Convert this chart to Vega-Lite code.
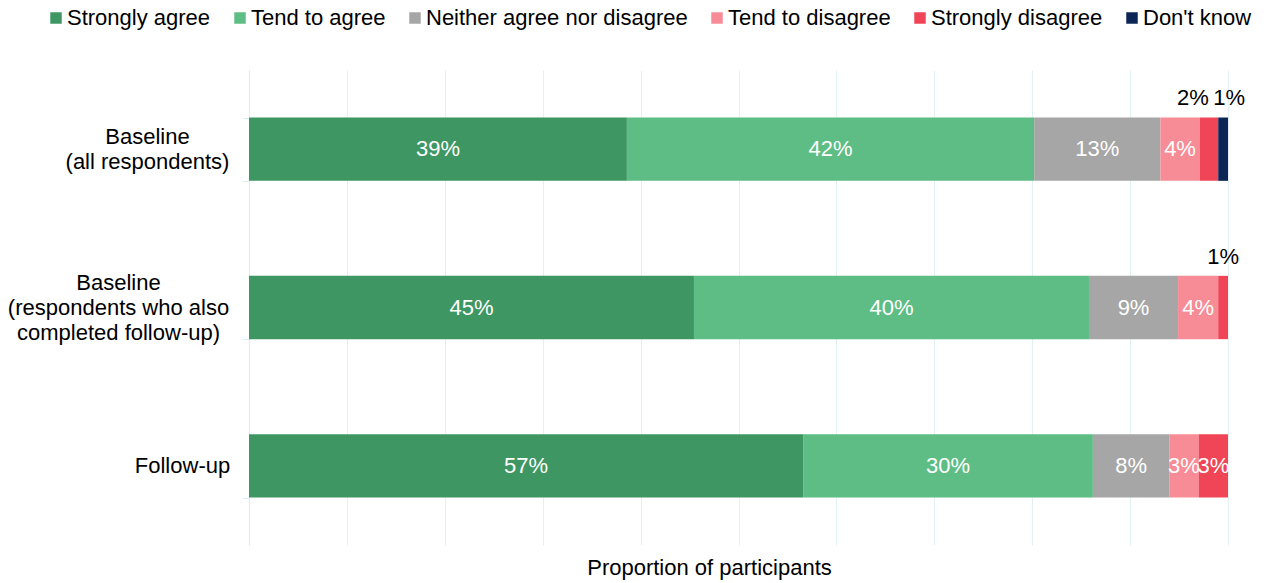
{
  "$schema": "https://vega.github.io/schema/vega-lite/v6.json",
  "autosize": "none",
  "width": 979,
  "height": 475,
  "padding": {"left": 249, "top": 70, "right": 36, "bottom": 38},
  "background": "white",
  "config": {
    "font": "Liberation Sans",
    "view": {"stroke": null}
  },
  "data": {
    "values": [
      {"group": "Baseline|(all respondents)", "response": "Strongly agree", "value": 0.386},
      {"group": "Baseline|(all respondents)", "response": "Tend to agree", "value": 0.416},
      {"group": "Baseline|(all respondents)", "response": "Neither agree nor disagree", "value": 0.129},
      {"group": "Baseline|(all respondents)", "response": "Tend to disagree", "value": 0.04},
      {"group": "Baseline|(all respondents)", "response": "Strongly disagree", "value": 0.019},
      {"group": "Baseline|(all respondents)", "response": "Don't know", "value": 0.01},
      {"group": "Baseline|(respondents who also|completed follow-up)", "response": "Strongly agree", "value": 0.4545},
      {"group": "Baseline|(respondents who also|completed follow-up)", "response": "Tend to agree", "value": 0.4035},
      {"group": "Baseline|(respondents who also|completed follow-up)", "response": "Neither agree nor disagree", "value": 0.091},
      {"group": "Baseline|(respondents who also|completed follow-up)", "response": "Tend to disagree", "value": 0.041},
      {"group": "Baseline|(respondents who also|completed follow-up)", "response": "Strongly disagree", "value": 0.01},
      {"group": "Follow-up", "response": "Strongly agree", "value": 0.566},
      {"group": "Follow-up", "response": "Tend to agree", "value": 0.296},
      {"group": "Follow-up", "response": "Neither agree nor disagree", "value": 0.078},
      {"group": "Follow-up", "response": "Tend to disagree", "value": 0.03},
      {"group": "Follow-up", "response": "Strongly disagree", "value": 0.03}
    ]
  },
  "transform": [
    {"calculate": "indexof(['Strongly agree','Tend to agree','Neither agree nor disagree','Tend to disagree','Strongly disagree','Don\\'t know'], datum.response)", "as": "k"},
    {"stack": "value", "groupby": ["group"], "sort": [{"field": "k", "order": "ascending"}], "as": ["x0", "x1"]},
    {"calculate": "(datum.x0 + datum.x1) / 2", "as": "mid"}
  ],
  "encoding": {
    "y": {
      "field": "group",
      "type": "nominal",
      "sort": null,
      "scale": {"paddingInner": 0.6, "paddingOuter": 0.3},
      "axis": {
        "title": null,
        "labelExpr": "isString(datum.value) ? split(datum.value, '|') : ''",
        "labelFontSize": 22,
        "labelColor": "#000000",
        "labelLineHeight": 25,
        "labelLimit": 500,
        "labelAlign": "center",
        "labelPadding": {
          "condition": [
            {"test": "datum.value === 'Follow-up'", "value": 60},
            {"test": "isString(datum.value) && indexof(datum.value, 'also') >= 0", "value": 124}
          ],
          "value": 95
        },
        "labelOffset": {
          "condition": [
            {"test": "datum.value === 'Follow-up'", "value": 0},
            {"test": "isString(datum.value) && indexof(datum.value, 'also') >= 0", "value": -25}
          ],
          "value": -12.5
        },
        "tickBand": "extent",
        "tickSize": 7,
        "tickColor": "#dcefef",
        "domainColor": "#dcefef",
        "grid": false
      }
    }
  },
  "layer": [
    {
      "mark": {"type": "bar"},
      "encoding": {
        "x": {
          "field": "x0",
          "type": "quantitative",
          "scale": {"domain": [0, 1], "nice": false},
          "axis": {
            "values": [0, 0.1, 0.2, 0.3, 0.4, 0.5, 0.6, 0.7, 0.8, 0.9, 1],
            "labels": false,
            "ticks": false,
            "domain": false,
            "grid": true,
            "gridColor": "#e2f2f2",
            "gridWidth": 1,
            "title": "Proportion of participants",
            "titleFontSize": 22,
            "titleFontWeight": "normal",
            "titleColor": "#000000",
            "titlePadding": 12,
            "titleX": 460
          }
        },
        "x2": {"field": "x1"},
        "color": {
          "field": "response",
          "type": "nominal",
          "scale": {
            "domain": ["Strongly agree", "Tend to agree", "Neither agree nor disagree", "Tend to disagree", "Strongly disagree", "Don't know"],
            "range": ["#3e9763", "#5ebd84", "#a6a6a6", "#f78c96", "#f04556", "#0b2656"]
          },
          "legend": {
            "title": null,
            "orient": "none",
            "direction": "horizontal",
            "legendX": -204,
            "legendY": -63,
            "symbolType": "square",
            "symbolSize": 132,
            "symbolStrokeWidth": 0,
            "labelFontSize": 22,
            "labelColor": "#000000",
            "labelOffset": 0,
            "labelLimit": 0,
            "columnPadding": 18,
            "padding": 0
          }
        }
      }
    },
    {
      "transform": [{"filter": "datum.value >= 0.025"}],
      "mark": {"type": "text", "color": "white", "fontSize": 22, "align": "center", "baseline": "middle"},
      "encoding": {
        "x": {"field": "mid", "type": "quantitative"},
        "text": {"field": "value", "type": "quantitative", "format": ".0%"}
      }
    },
    {
      "transform": [{"filter": "datum.value < 0.025"}],
      "mark": {
        "type": "text",
        "color": "#000000",
        "fontSize": 22,
        "align": "center",
        "baseline": "middle",
        "dy": -51,
        "dx": {"expr": "datum.response === 'Strongly disagree' && datum.group === 'Baseline|(all respondents)' ? -16 : (datum.response === \"Don't know\" ? 6 : 0)"}
      },
      "encoding": {
        "x": {"field": "mid", "type": "quantitative"},
        "text": {"field": "value", "type": "quantitative", "format": ".0%"}
      }
    }
  ]
}
